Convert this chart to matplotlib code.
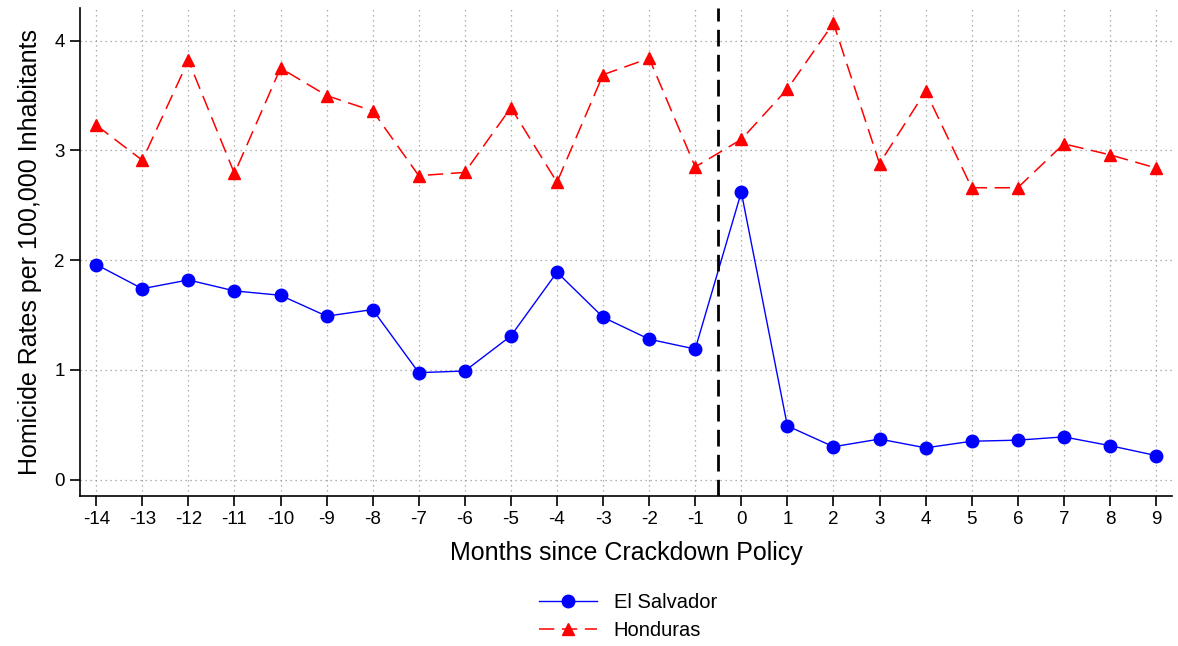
import numpy as np
import matplotlib
matplotlib.use('Agg')
import matplotlib.pyplot as plt

plt.rc('font', family=['Liberation Sans', 'DejaVu Sans'])

months = list(range(-14, 10))
el_salvador = [1.96, 1.74, 1.82, 1.72, 1.68, 1.49, 1.55, 0.975, 0.99, 1.31, 1.89, 1.48,
               1.28, 1.19, 2.62, 0.49, 0.30, 0.37, 0.29, 0.35, 0.36, 0.39, 0.31, 0.22]
honduras = [3.23, 2.91, 3.82, 2.79, 3.75, 3.50, 3.36, 2.77, 2.80, 3.39, 2.71, 3.69,
            3.84, 2.85, 3.10, 3.56, 4.16, 2.88, 3.54, 2.66, 2.66, 3.06, 2.96, 2.84]
policy_line = -0.5

fig = plt.figure(figsize=(11.78, 6.46), dpi=100)
ax = fig.add_axes([0.068, 0.232, 0.927, 0.756])

ax.plot(months, el_salvador, '-o', color='blue', lw=1.0, ms=9, label='El Salvador', zorder=3)
ax.plot(months, honduras, '--^', color='red', lw=1.1, ms=9, dashes=(10, 5),
        label='Honduras', zorder=3)
ax.axvline(policy_line, color='black', lw=2, dashes=(6, 3), zorder=4)

ax.set_xlim(-14.35, 9.35)
ax.set_ylim(-0.15, 4.3)
ax.set_xticks(months)
ax.set_xticklabels([str(m) for m in months])
ax.set_yticks([0, 1, 2, 3, 4])

ax.grid(True, color='#999999', ls=(0, (1, 3)), lw=0.9)
for s in ['top', 'right']:
    ax.spines[s].set_visible(False)
ax.spines['left'].set_linewidth(1.2)
ax.spines['bottom'].set_linewidth(1.2)
ax.tick_params(axis='both', length=7, width=1.2, labelsize=13.5, pad=4)

ax.set_xlabel('Months since Crackdown Policy', fontsize=18, labelpad=9)
ax.set_ylabel('Homicide Rates per 100,000 Inhabitants', fontsize=18, labelpad=9)

fig.legend(loc='upper center', bbox_to_anchor=(0.533, 0.11), frameon=False,
           fontsize=14.5, handlelength=2.9, labelspacing=0.45)

fig.savefig('out.png', dpi=100)
